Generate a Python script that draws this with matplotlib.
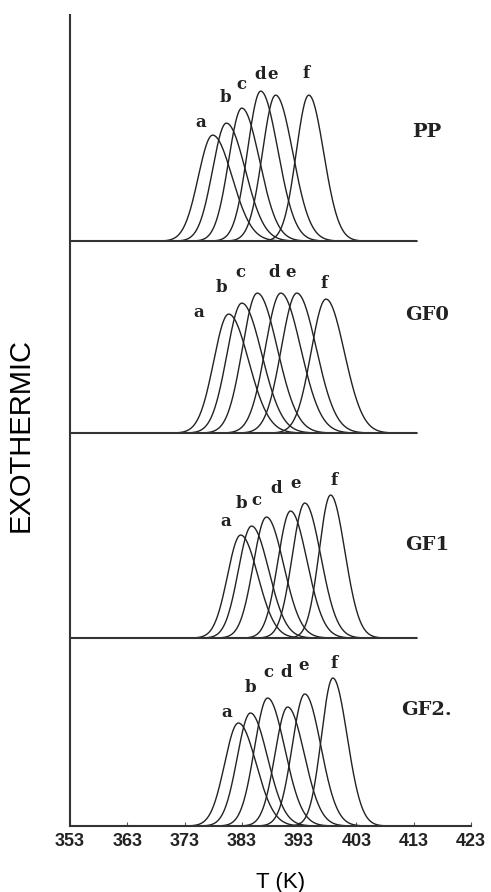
import numpy as np
import matplotlib
matplotlib.use('Agg')
import matplotlib.pyplot as plt

# peak data (T in K, height in arbitrary units)
samples = ['PP', 'GF0', 'GF1', 'GF2.']
curve_labels = ['a', 'b', 'c', 'd', 'e', 'f']
peak_T = [
    [377.9, 380.3, 383.0, 386.3, 388.9, 394.7],
    [380.7, 383.0, 385.7, 389.8, 392.6, 397.7],
    [382.8, 384.7, 387.3, 391.5, 394.0, 398.5],
    [382.4, 384.5, 387.5, 391.0, 394.0, 398.9],
]
peak_h = [
    [106, 118, 133, 150, 146, 146],
    [119, 130, 140, 140, 140, 134],
    [103, 112, 121, 127, 135, 143],
    [103, 113, 128, 119, 132, 148],
]
sigma_low = [
    [2.5, 2.4, 2.3, 2.3, 2.3, 2.2],
    [2.6, 2.6, 2.6, 2.7, 2.7, 2.6],
    [2.3, 2.3, 2.3, 2.2, 2.2, 2.0],
    [2.4, 2.3, 2.3, 2.2, 2.2, 2.0],
]
sigma_high = [
    [3.4, 3.3, 3.1, 3.0, 3.0, 2.6],
    [3.5, 3.5, 3.5, 3.5, 3.4, 3.2],
    [3.0, 3.0, 3.0, 2.9, 2.8, 2.5],
    [3.1, 3.0, 3.0, 2.9, 2.8, 2.5],
]
x_ticks = [353, 363, 373, 383, 393, 403, 413, 423]

# layout: panel baselines, letter offsets from each peak top (pixels)
offsets = [585, 393, 188, 0]
label_dx = [
    [-12, -1, 0, -1, -3, -3],
    [-30, -20, -17, -7, -6, -2],
    [-15, -10, -10, -14, -9, 3],
    [-12, 0, 1, -1, -1, 1],
]
label_dy = [
    [13, 26, 24, 17, 21, 22],
    [2, 16, 21, 21, 21, 16],
    [14, 23, 17, 23, 20, 15],
    [11, 26, 26, 35, 29, 15],
]
panel_label_y = [109, 118, 93, 116]

T = np.linspace(353, 413.5, 800)
letter_font = dict(fontweight='bold', family='DejaVu Serif', color='#222222')

fig = plt.figure(figsize=(4.91, 8.92), dpi=100)
ax = fig.add_axes([0.1426, 0.074, 0.8164, 0.909])

for i, name in enumerate(samples):
    base = offsets[i]
    for j, lab in enumerate(curve_labels):
        t0 = peak_T[i][j]
        s = np.where(T < t0, sigma_low[i][j], sigma_high[i][j])
        y = base + peak_h[i][j] * np.exp(-0.5 * ((T - t0) / s) ** 2)
        ax.plot(T, y, color='#222222', lw=1.0)
        ax.annotate(lab, (t0, base + peak_h[i][j]), xytext=(label_dx[i][j], label_dy[i][j]),
                    textcoords='offset pixels', ha='center', va='center',
                    fontsize=12, **letter_font)
    if base > 0:
        ax.plot([353, 413.5], [base, base], color='#333333', lw=1.5)
    ax.text(415.3, base + panel_label_y[i], name, ha='center', va='center',
            fontsize=14, **letter_font)

ax.set_xlim(353, 423)
ax.set_ylim(0, 811)
ax.set_xticks(x_ticks)
ax.set_xticklabels([str(v) for v in x_ticks], fontsize=13, fontweight='bold',
                   family='Liberation Sans', color='#222222')
ax.set_yticks([])
ax.tick_params(axis='x', direction='in', length=3, pad=5, color='#555555')
for side in ['top', 'right']:
    ax.spines[side].set_visible(False)
ax.spines['left'].set_linewidth(1.5)
ax.spines['bottom'].set_linewidth(1.5)
ax.spines['left'].set_color('#333333')
ax.spines['bottom'].set_color('#333333')
ax.set_xlabel('T (K)', fontsize=16, family='Liberation Sans')
ax.xaxis.set_label_coords(0.524, -0.057)
ax.set_ylabel('EXOTHERMIC', fontsize=21, family='Liberation Sans')
ax.yaxis.set_label_coords(-0.088, 0.482)

fig.savefig('out.png', dpi=100)
